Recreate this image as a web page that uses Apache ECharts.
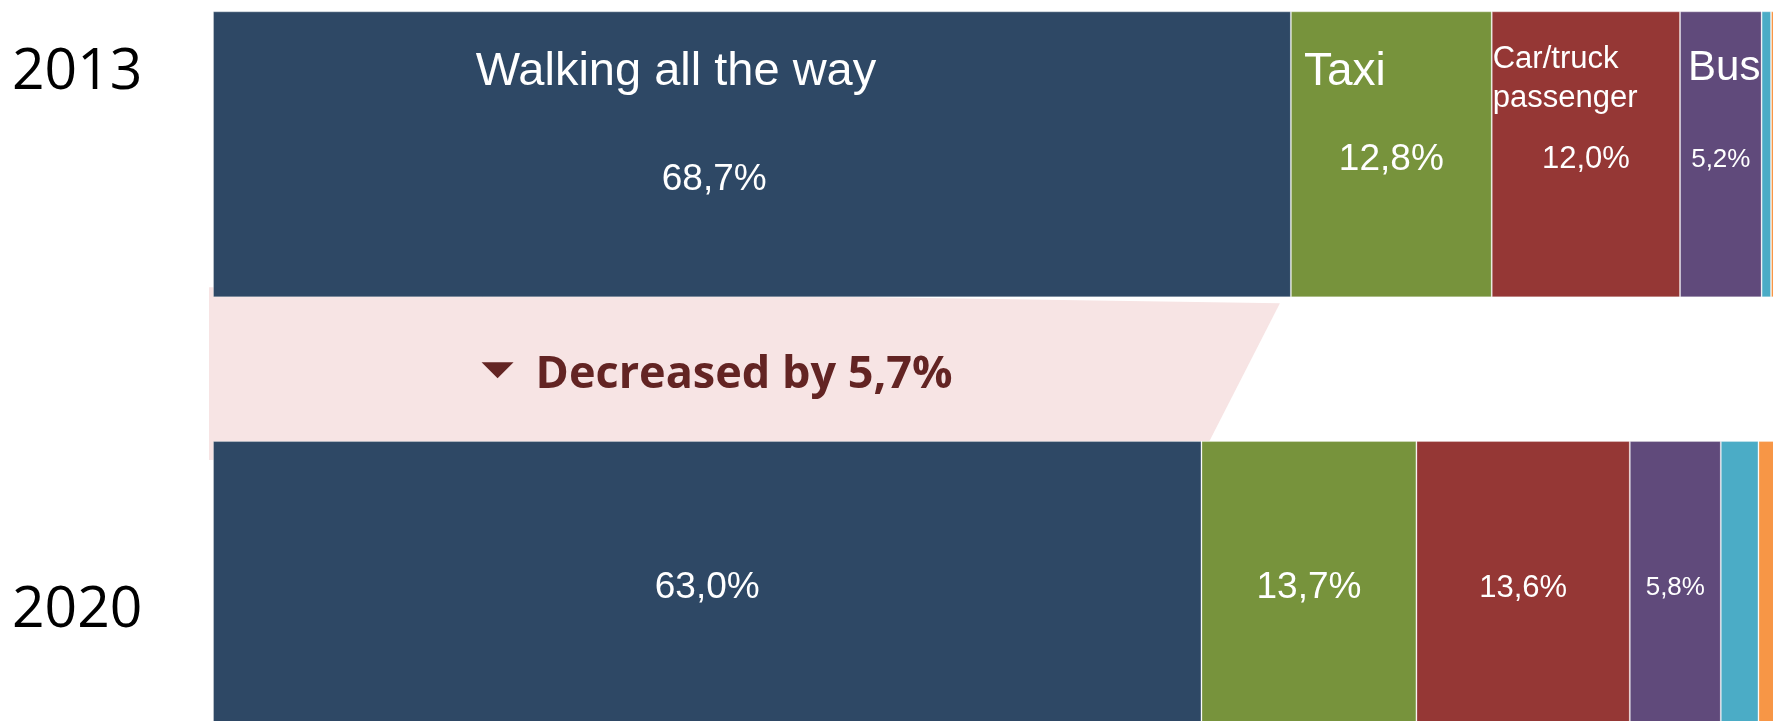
<!DOCTYPE html>
<html>
<head>
<meta charset="utf-8">
<script src="https://cdn.jsdelivr.net/npm/echarts@6/dist/echarts.min.js"></script>
<style>
  html, body { margin: 0; padding: 0; background: #ffffff; }
  #chart { width: 1773px; height: 721px; }
</style>
</head>
<body>
<div id="chart"></div>
<script>
// Share of trips by main mode of travel, 2013 vs 2020 (percent)
const years = ['2013', '2020'];
const modes = ['Walking all the way', 'Taxi', 'Car/truck passenger', 'Bus', 'Other (1)', 'Other (2)'];
const share2013 = [68.7, 12.8, 12.0, 5.2, 0.6, 0.7];
const share2020 = [63.0, 13.7, 13.6, 5.8, 2.4, 1.5];
const modeLabels = ['Walking all the way', 'Taxi', 'Car/truck\npassenger', 'Bus', '', ''];

// ---- styling ----
const modeColors = ['#2E4865', '#77933C', '#953735', '#604A7B', '#4BACC6', '#F79646'];
const BAR_H = 286;
const SANS = '"Liberation Sans", Arial, sans-serif';
const valueFont = [37, 37, 31, 26, 0, 0];
// value label anchor on the 2013 bar, relative to the segment rect
const topValuePos = [['46.5%', 168], ['50%', 148], ['50%', 148.5], ['50%', 148]];
// mode name placement on the 2013 bar
const topNameStyle = [
  { size: 47, align: 'center', dx: -76, dy: 61 },
  { size: 46, align: 'left', dx: 13, dy: 60.5 },
  { size: 31, align: 'left', dx: 1, dy: 68, lineHeight: 39 },
  { size: 42, align: 'left', dx: 8, dy: 57 }
];

const fmt = v => v.toFixed(1).replace('.', ',') + '%';

// cumulative start of each segment on the 2013 bar
const starts2013 = [];
share2013.reduce((acc, v, i) => { starts2013[i] = acc; return acc + v; }, 0);

const barSeries = modes.map((name, i) => ({
  type: 'bar',
  name: name,
  stack: 'share',
  barWidth: BAR_H,
  z: 2,
  itemStyle: { color: modeColors[i], borderColor: 'rgba(255,255,255,0.28)', borderWidth: 1 },
  data: [
    {
      value: share2013[i],
      label: {
        show: valueFont[i] > 0,
        position: topValuePos[i] || 'inside',
        align: 'center',
        verticalAlign: 'middle',
        color: '#ffffff',
        fontFamily: SANS,
        fontSize: valueFont[i] || 12,
        formatter: p => fmt(p.value)
      }
    },
    {
      value: share2020[i],
      label: {
        show: valueFont[i] > 0,
        position: 'inside',
        offset: [0, 4],
        color: '#ffffff',
        fontFamily: SANS,
        fontSize: valueFont[i] || 12,
        formatter: p => fmt(p.value)
      }
    }
  ]
}));

// Mode names written along the top of the 2013 bar
const nameSeries = {
  type: 'custom',
  name: 'mode names',
  z: 3,
  silent: true,
  encode: { x: [0, 1], y: 2 },
  data: topNameStyle.map((s, i) => [starts2013[i], starts2013[i] + share2013[i], 0, i]),
  renderItem: (params, api) => {
    const i = api.value(3);
    const s = topNameStyle[i];
    const a = api.coord([api.value(0), 0]);
    const b = api.coord([api.value(1), 0]);
    const top = a[1] - BAR_H / 2;
    const x = s.align === 'center' ? (a[0] + b[0]) / 2 + s.dx : a[0] + s.dx;
    return {
      type: 'text',
      style: {
        text: modeLabels[i],
        x: x,
        y: top + s.dy,
        align: s.align,
        verticalAlign: 'middle',
        fill: '#ffffff',
        font: s.size + 'px ' + SANS,
        lineHeight: s.lineHeight || s.size
      }
    };
  }
};

// Connector band showing the change in walking share
const changeSeries = {
  type: 'custom',
  name: 'walking change',
  z: 1,
  silent: true,
  encode: { x: [0, 1], y: [2, 3] },
  data: [[share2013[0], share2020[0], 0, 1]],
  renderItem: (params, api) => {
    const l13 = api.coord([0, 0]);
    const e13 = api.coord([api.value(0), 0]);
    const l20 = api.coord([0, 1]);
    const e20 = api.coord([api.value(1), 1]);
    const bot13 = l13[1] + BAR_H / 2;
    const top20 = l20[1] - BAR_H / 2;
    const left = l13[0] - 4;
    const cy = (bot13 + top20) / 2;
    const cx = (l13[0] + (e13[0] + e20[0]) / 2) / 2 - 13;
    const diff = api.value(0) - api.value(1);
    return {
      type: 'group',
      children: [
        {
          type: 'polygon',
          shape: { points: [[left, bot13 - 10], [e13[0] - 11, bot13 + 6], [e20[0] + 8, top20], [left, top20 + 19]] },
          style: { fill: '#F7E4E4' }
        },
        {
          type: 'polygon',
          shape: { points: [[cx - 235, cy - 7], [cx - 203, cy - 7], [cx - 219, cy + 9]] },
          style: { fill: '#632423' }
        },
        {
          type: 'text',
          style: {
            text: 'Decreased by ' + fmt(diff),
            x: cx - 181,
            y: cy + 6,
            align: 'left',
            verticalAlign: 'middle',
            fill: '#632423',
            font: 'bold 45px "Open Sans", "Noto Sans", sans-serif'
          }
        }
      ]
    };
  }
};

const chart = echarts.init(document.getElementById('chart'), null, { renderer: 'canvas' });
chart.setOption({
  animation: false,
  backgroundColor: '#ffffff',
  grid: { left: 213, width: 1569, top: -60.5, height: 859.4, outerBoundsMode: 'none', containLabel: false },
  xAxis: { type: 'value', min: 0, max: 100, show: false },
  yAxis: { type: 'category', data: years, inverse: true, show: false },
  graphic: years.map((y, i) => ({
    type: 'text',
    left: 12,
    top: i === 0 ? 67 - 23 : 605 - 23,
    style: {
      text: y,
      fill: '#000000',
      font: '57px "Open Sans", "Noto Sans", sans-serif'
    }
  })),
  series: [changeSeries].concat(barSeries, [nameSeries])
});
</script>
</body>
</html>
